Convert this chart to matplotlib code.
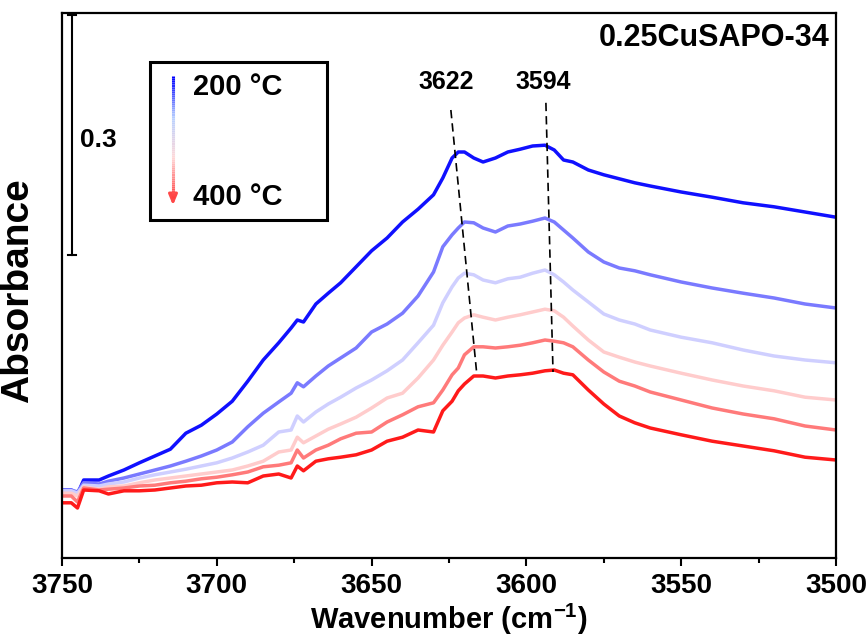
import numpy as np
import matplotlib
matplotlib.use("Agg")
import matplotlib.pyplot as plt
from matplotlib.collections import LineCollection
from matplotlib.colors import LinearSegmentedColormap
from matplotlib.patches import Rectangle

plt.rcParams['font.family'] = ['Liberation Sans', 'DejaVu Sans']
plt.rcParams['font.weight'] = 'bold'
plt.rcParams['axes.labelweight'] = 'bold'
plt.rcParams['mathtext.fontset'] = 'custom'
plt.rcParams['mathtext.rm'] = 'Liberation Sans:bold'
plt.rcParams['mathtext.default'] = 'rm'

# wavenumber grid (cm-1), shared by all spectra
wn = [3750, 3747, 3745, 3743, 3738, 3735, 3730, 3725, 3720, 3715,
      3710, 3705, 3700, 3695, 3690, 3685, 3680, 3676, 3674, 3672,
      3668, 3664, 3660, 3655, 3650, 3645, 3640, 3635, 3630, 3627,
      3624, 3622, 3620, 3617, 3614, 3610, 3606, 3602, 3598, 3594,
      3591, 3588, 3585, 3580, 3575, 3570, 3565, 3560, 3550, 3540,
      3530, 3520, 3510, 3500]

# absorbance, 200 C -> 400 C
abs_200 = [.085, .085, .080, .0975, .0975, .1025, .11, .119, .1275, .136,
           .156, .166, .18, .196, .221, .2475, .269, .2875, .2975, .295,
           .3175, .331, .344, .364, .384, .4, .42, .436, .454, .475,
           .5, .5075, .5075, .5, .495, .5, .5075, .511, .515, .516,
           .51, .4975, .495, .485, .479, .474, .469, .465, .4575, .451,
           .444, .439, .4325, .426]
abs_240 = [.085, .085, .0825, .094, .0925, .096, .1, .105, .11, .115,
           .121, .1275, .135, .145, .164, .181, .195, .206, .219, .214,
           .2275, .24, .25, .2625, .2825, .2925, .306, .3275, .3575, .389,
           .404, .4125, .42, .419, .4125, .4075, .415, .4175, .421, .425,
           .42, .41, .4, .3825, .37, .3625, .359, .354, .345, .3375,
           .331, .325, .3175, .3125]
abs_280 = [.084, .084, .081, .091, .09, .0925, .095, .1, .104, .1075,
           .111, .115, .119, .125, .1325, .141, .1575, .16, .1775, .17,
           .1825, .1925, .201, .2125, .2225, .234, .2475, .269, .291, .319,
           .339, .35, .356, .354, .3475, .344, .349, .351, .356, .36,
           .354, .345, .335, .32, .305, .2975, .2925, .285, .276, .269,
           .26, .2525, .2475, .244]
abs_320 = [.081, .081, .0775, .089, .086, .089, .09, .094, .0975, .1,
           .1025, .105, .1075, .11, .115, .121, .1325, .135, .151, .144,
           .1525, .161, .1675, .176, .1875, .2, .206, .225, .2475, .266,
           .2825, .294, .3, .304, .301, .2975, .301, .304, .3075, .311,
           .309, .301, .29, .2725, .2575, .251, .245, .24, .231, .2225,
           .215, .209, .201, .1975]
abs_360 = [.0775, .0775, .07, .0875, .085, .086, .0875, .09, .091, .094,
           .096, .099, .101, .104, .1075, .114, .116, .119, .135, .125,
           .135, .141, .149, .156, .1575, .17, .179, .189, .194, .21,
           .229, .2375, .254, .264, .264, .2625, .264, .266, .269, .2725,
           .271, .269, .264, .2475, .2325, .221, .215, .2075, .1975, .1875,
           .18, .174, .165, .16]
abs_400 = [.069, .069, .0625, .085, .084, .08, .084, .084, .085, .0875,
           .09, .091, .094, .095, .094, .1025, .105, .1, .115, .109,
           .121, .124, .126, .129, .135, .146, .151, .16, .1575, .184,
           .196, .209, .2175, .2275, .2275, .225, .2275, .229, .231, .234,
           .235, .231, .229, .21, .1925, .1775, .169, .1625, .154, .146,
           .14, .134, .126, .1225]

spectra = [abs_200, abs_240, abs_280, abs_320, abs_360, abs_400]
colors = ['#1010ff', '#7a7aff', '#cfcfff', '#ffcccc', '#ff7a7a', '#ff1a1a']

# peak guide lines: (wn_top, abs_top, wn_bottom, abs_bottom)
peak_3622 = (3624.4, 0.560, 3616.0, 0.229)
peak_3594 = (3593.7, 0.569, 3591.4, 0.2325)

fig = plt.figure(figsize=(8.66, 6.39), dpi=100)
ax = fig.add_axes([62 / 866, 1 - 558 / 639, 774 / 866, 545 / 639])

for y, c in zip(spectra, colors):
    ax.plot(wn, y, color=c, lw=2.5, solid_joinstyle='round')

for p in (peak_3622, peak_3594):
    ax.plot([p[0], p[2]], [p[1], p[3]], color='black', lw=1.2,
            linestyle=(0, (5, 3)))
ax.text(3626, 0.595, '3622', ha='center', va='center', fontsize=18)
ax.text(3594.6, 0.595, '3594', ha='center', va='center', fontsize=18)

# scale bar 0.3
ax.plot([3746.8, 3746.8], [0.37875, 0.67875], color='black', lw=1.5)
ax.plot([3748.0, 3745.6], [0.37875, 0.37875], color='black', lw=1.5)
ax.plot([3748.0, 3745.6], [0.67875, 0.67875], color='black', lw=1.5)
ax.text(3744.2, 0.5225, '0.3', ha='left', va='center', fontsize=19)

ax.set_xlim(3750, 3500)
ax.set_ylim(0, 0.68125)
ax.set_xticks(np.arange(3750, 3499, -50))
ax.set_xticks(np.arange(3725, 3500, -50), minor=True)
ax.set_yticks([])
ax.tick_params(axis='x', which='major', direction='out', length=6, width=1.5,
               labelsize=20, pad=5)
ax.tick_params(axis='x', which='minor', direction='out', length=3.5, width=1.5)
for s in ax.spines.values():
    s.set_linewidth(1.6)

ax.set_xlabel('Wavenumber (cm$^{-1}$)', fontsize=21)
ax.xaxis.set_label_coords(0.5, -0.080)
ax.set_ylabel('Absorbance', fontsize=28)
ax.yaxis.set_label_coords(-0.033, 0.49)

ax.text(0.992, 0.954, '0.25CuSAPO-34', transform=ax.transAxes,
        ha='right', va='center', fontsize=22)

# legend box with gradient arrow
ax.add_patch(Rectangle((0.1137, 0.620), 0.2287, 0.290, transform=ax.transAxes,
                       fill=False, edgecolor='black', lw=2.2, zorder=5))
cmap = LinearSegmentedColormap.from_list(
    'grad', ['#0000ff', '#b8d0ff', '#ffd8d8', '#ff4040'])
ys = np.linspace(0.884, 0.660, 60)
segs = [[(0.1434, ys[i]), (0.1434, ys[i + 1])] for i in range(len(ys) - 1)]
lc = LineCollection(segs, colors=cmap(np.linspace(0, 1, len(segs))), lw=2.2,
                    transform=ax.transAxes, zorder=6)
ax.add_collection(lc)
ax.annotate('', xy=(0.1434, 0.642), xytext=(0.1434, 0.668),
            xycoords='axes fraction',
            arrowprops=dict(arrowstyle='-|>,head_width=0.25,head_length=0.6',
                            color='#ff4848', lw=2.2))
ax.text(0.169, 0.864, '200 °C', transform=ax.transAxes, ha='left',
        va='center', fontsize=21)
ax.text(0.169, 0.662, '400 °C', transform=ax.transAxes, ha='left',
        va='center', fontsize=21)

fig.savefig('out.png', dpi=100)
